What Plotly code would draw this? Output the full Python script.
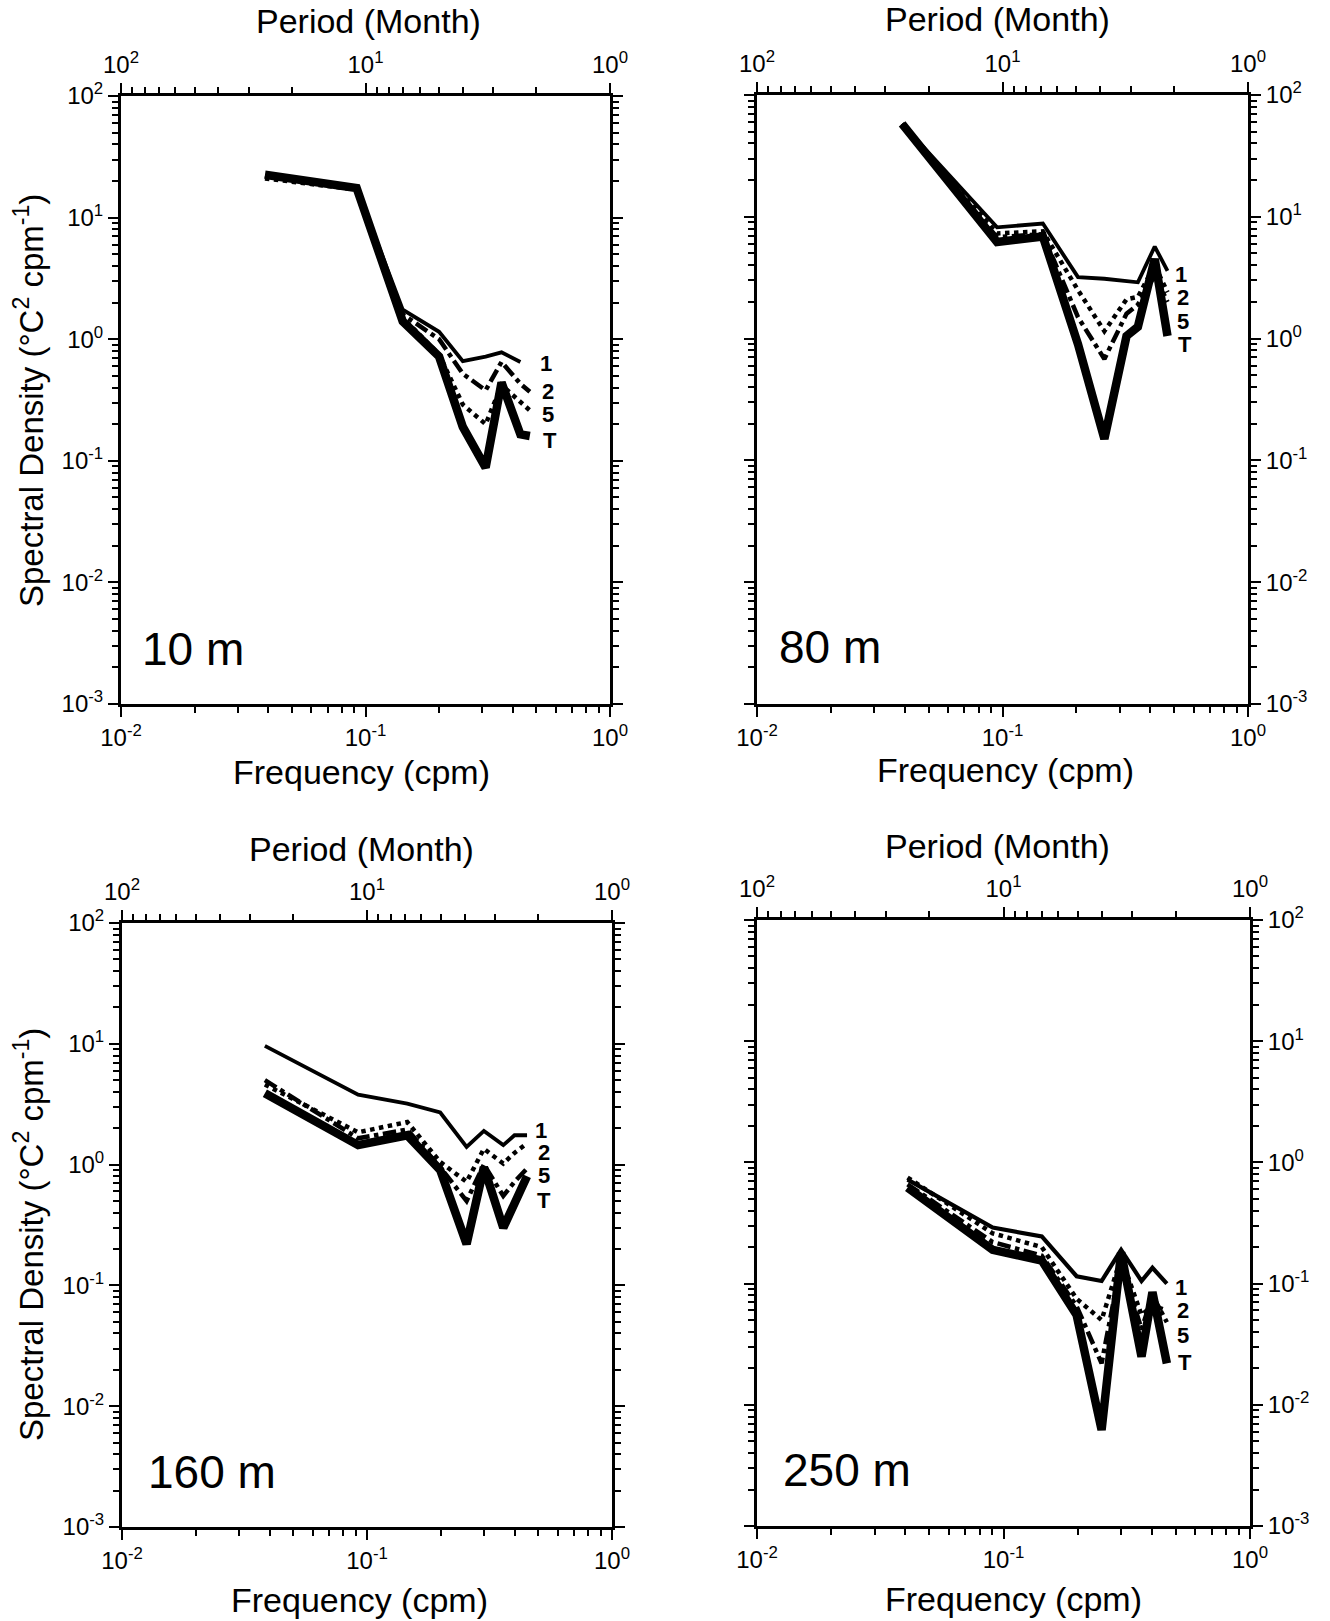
import plotly.graph_objects as go

W, H = 1330, 1621

# ---------------- data ----------------
depth_labels = ["10 m", "80 m", "160 m", "250 m"]
series_names = ["1", "2", "5", "T"]

freq_10m = [0.0388, 0.092, 0.142, 0.2, 0.25, 0.31, 0.36, 0.43, 0.47]
s1_10m = [22, 17.5, 1.75, 1.15, 0.66, 0.72, 0.78, 0.65, None]
s2_10m = [22, 17.5, 1.6, 1.0, 0.52, 0.38, 0.65, 0.43, 0.37]
s5_10m = [21, 17, 1.5, 0.75, 0.29, 0.2, 0.42, 0.3, 0.26]
sT_10m = [22.5, 17.5, 1.4, 0.72, 0.19, 0.088, 0.44, 0.165, 0.16]

freq_80m = [0.039, 0.095, 0.146, 0.203, 0.26, 0.32, 0.356, 0.417, 0.47]
s1_80m = [58, 8.2, 8.8, 3.2, 3.1, 3.0, 2.9, 5.7, 3.6]
s2_80m = [58, 7.3, 7.6, 2.5, 1.15, 2.1, 2.2, 4.0, 2.4]
s5_80m = [57, 6.8, 7.2, 1.5, 0.68, 1.6, 1.9, 3.3, 2.0]
sT_80m = [58, 6.2, 6.9, 0.9, 0.15, 1.05, 1.25, 4.5, 1.05]

freq_160m = [0.0383, 0.092, 0.146, 0.199, 0.255, 0.30, 0.36, 0.40, 0.45]
s1_160m = [9.6, 3.8, 3.2, 2.7, 1.4, 1.9, 1.45, 1.75, 1.75]
s2_160m = [4.6, 1.85, 2.25, 1.05, 0.72, 1.35, 1.02, 1.25, 1.5]
s5_160m = [5.0, 1.65, 1.95, 0.95, 0.5, 1.0, 0.55, 0.72, 0.93]
sT_160m = [3.9, 1.45, 1.75, 0.9, 0.22, 0.95, 0.3, 0.48, 0.8]

freq_250m = [0.0408, 0.0904, 0.143, 0.198, 0.25, 0.30, 0.363, 0.402, 0.46]
s1_250m = [0.72, 0.29, 0.245, 0.115, 0.105, 0.19, 0.105, 0.135, 0.10]
s2_250m = [0.75, 0.26, 0.2, 0.075, 0.05, 0.165, 0.055, 0.066, 0.06]
s5_250m = [0.66, 0.22, 0.17, 0.065, 0.022, 0.15, 0.042, 0.08, 0.048]
sT_250m = [0.62, 0.19, 0.155, 0.055, 0.0062, 0.18, 0.025, 0.085, 0.022]

freq_ticks = [0.01, 0.1, 1]
freq_ticktext = ["10<sup>-2</sup>", "10<sup>-1</sup>", "10<sup>0</sup>"]
period_ticks = [100, 10, 1]
period_ticktext = ["10<sup>2</sup>", "10<sup>1</sup>", "10<sup>0</sup>"]
dens_ticks = [1e-3, 1e-2, 1e-1, 1, 10, 100]
dens_ticktext = ["10<sup>-3</sup>", "10<sup>-2</sup>", "10<sup>-1</sup>",
                 "10<sup>0</sup>", "10<sup>1</sup>", "10<sup>2</sup>"]

panel_freqs = [freq_10m, freq_80m, freq_160m, freq_250m]
panel_series = [
    [s1_10m, s2_10m, s5_10m, sT_10m],
    [s1_80m, s2_80m, s5_80m, sT_80m],
    [s1_160m, s2_160m, s5_160m, sT_160m],
    [s1_250m, s2_250m, s5_250m, sT_250m],
]

# ---------------- layout / styles ----------------
FONT = "Liberation Sans, Arial, Helvetica, sans-serif"

# plot boxes in pixels: x0, x1, y0(top), y1(bottom), y-label side
boxes = [
    (121, 610, 96, 704, "left"),
    (757, 1248, 95, 704, "right"),
    (122, 612, 923, 1527, "left"),
    (757, 1250, 920, 1526, "right"),
]

# line styles per panel for series 1, 2, 5, T
styles = [
    [("solid", 3.8), ("dashdot", 4.5), ("dot", 4.5), ("solid", 8.5)],
    [("solid", 3.8), ("dot", 4.5), ("dashdot", 4.5), ("solid", 8.5)],
    [("solid", 3.8), ("dot", 4.5), ("dashdot", 4.5), ("solid", 8.5)],
    [("solid", 4.2), ("dot", 4.5), ("dashdot", 4.5), ("solid", 8.5)],
]

series_label_px = [
    [(546, 364), (548, 391), (548, 414), (550, 440)],
    [(1181, 274), (1183, 298), (1183, 321), (1185, 345)],
    [(541, 1130), (544, 1152), (544, 1175), (544, 1200)],
    [(1181, 1287), (1183, 1310), (1183, 1335), (1185, 1362)],
]
depth_label_px = [(193, 649), (830, 647), (212, 1472), (847, 1470)]
period_title_px = [(368, 21), (997, 19), (361, 849), (997, 846)]
freq_title_px = [(361, 772), (1005, 770), (359, 1600), (1013, 1599)]
ytitle_px = [(29, 401), (29, 1235)]


def px(x, y):
    return x / W, 1 - y / H


def minor_vals(lo, hi):
    out = []
    for e in range(lo, hi):
        for k in range(2, 10):
            out.append(k * 10.0 ** e)
    return out


fig = go.Figure()
annotations = []
layout = dict(
    width=W, height=H,
    margin=dict(l=0, r=0, t=0, b=0, pad=0, autoexpand=False),
    paper_bgcolor="white", plot_bgcolor="white",
    showlegend=False,
    font=dict(family=FONT, color="black"),
)

tickfont = dict(family=FONT, size=24, color="black")

for i in range(4):
    x0, x1, y0, y1, side = boxes[i]
    n = i + 1
    xa = "xaxis" if n == 1 else f"xaxis{n}"
    ya = "yaxis" if n == 1 else f"yaxis{n}"
    xref = "x" if n == 1 else f"x{n}"
    yref = "y" if n == 1 else f"y{n}"
    top_n = n + 4
    xa_top = f"xaxis{top_n}"
    xref_top = f"x{top_n}"

    dx0, _ = px(x0, 0)
    dx1, _ = px(x1, 0)
    _, dy1 = px(0, y0)
    _, dy0 = px(0, y1)

    layout[xa] = dict(
        type="log", range=[-2, 0], domain=[dx0, dx1], anchor=yref,
        side="bottom", showgrid=False, zeroline=False, automargin=False,
        showline=True, linewidth=3, linecolor="black", mirror=False,
        ticks="outside", ticklen=10, tickwidth=2, tickcolor="black",
        tickmode="array", tickvals=freq_ticks, ticktext=freq_ticktext,
        tickfont=tickfont,
        minor=dict(tickmode="array", tickvals=minor_vals(-2, 0),
                   ticks="outside", ticklen=6, tickwidth=1.5, tickcolor="black",
                   showgrid=False),
    )
    layout[xa_top] = dict(
        type="log", range=[2, 0], overlaying=xref, anchor=yref,
        side="top", showgrid=False, zeroline=False, automargin=False,
        showline=True, linewidth=3, linecolor="black",
        ticks="outside", ticklen=10, tickwidth=2, tickcolor="black",
        tickmode="array", tickvals=period_ticks, ticktext=period_ticktext,
        tickfont=tickfont,
        minor=dict(tickmode="array", tickvals=minor_vals(0, 2),
                   ticks="outside", ticklen=6, tickwidth=1.5, tickcolor="black",
                   showgrid=False),
    )
    layout[ya] = dict(
        type="log", range=[-3, 2], domain=[dy0, dy1], anchor=xref,
        side=side, showgrid=False, zeroline=False, automargin=False,
        showline=True, linewidth=3, linecolor="black", mirror="ticks",
        ticks="outside", ticklen=10, tickwidth=2, tickcolor="black",
        tickmode="array", tickvals=dens_ticks, ticktext=dens_ticktext,
        tickfont=tickfont,
        minor=dict(tickmode="array", tickvals=minor_vals(-3, 2),
                   ticks="outside", ticklen=6, tickwidth=1.5, tickcolor="black",
                   showgrid=False),
    )

    freqs = panel_freqs[i]
    for j, vals in enumerate(panel_series[i]):
        dash, lw = styles[i][j]
        fig.add_trace(go.Scatter(
            x=freqs, y=vals, mode="lines", xaxis=xref, yaxis=yref,
            line=dict(color="black", width=lw, dash=dash),
            connectgaps=False, name=f"{depth_labels[i]} {series_names[j]}",
            hoverinfo="skip",
        ))
    # empty trace so the period (top) axis is attached to this subplot
    fig.add_trace(go.Scatter(x=[], y=[], xaxis=xref_top, yaxis=yref,
                             mode="lines", hoverinfo="skip"))

    for j, name in enumerate(series_names):
        lx, ly = px(*series_label_px[i][j])
        annotations.append(dict(
            x=lx, y=ly, xref="paper", yref="paper", text="<b>" + name + "</b>",
            showarrow=False, font=dict(family=FONT, size=22, color="black"),
            xanchor="center", yanchor="middle"))

    lx, ly = px(*depth_label_px[i])
    annotations.append(dict(
        x=lx, y=ly, xref="paper", yref="paper", text=depth_labels[i],
        showarrow=False, font=dict(family=FONT, size=46, color="black"),
        xanchor="center", yanchor="middle"))

    lx, ly = px(*period_title_px[i])
    annotations.append(dict(
        x=lx, y=ly, xref="paper", yref="paper", text="Period (Month)",
        showarrow=False, font=dict(family=FONT, size=34, color="black"),
        xanchor="center", yanchor="middle"))

    lx, ly = px(*freq_title_px[i])
    annotations.append(dict(
        x=lx, y=ly, xref="paper", yref="paper", text="Frequency (cpm)",
        showarrow=False, font=dict(family=FONT, size=34, color="black"),
        xanchor="center", yanchor="middle"))

for (tx, ty) in ytitle_px:
    lx, ly = px(tx, ty)
    annotations.append(dict(
        x=lx, y=ly, xref="paper", yref="paper",
        text="Spectral Density (°C<sup>2</sup> cpm<sup>-1</sup>)",
        showarrow=False, textangle=-90,
        font=dict(family=FONT, size=33, color="black"),
        xanchor="center", yanchor="middle"))

layout["annotations"] = annotations
fig.update_layout(**layout)
fig.write_html("out.html")
